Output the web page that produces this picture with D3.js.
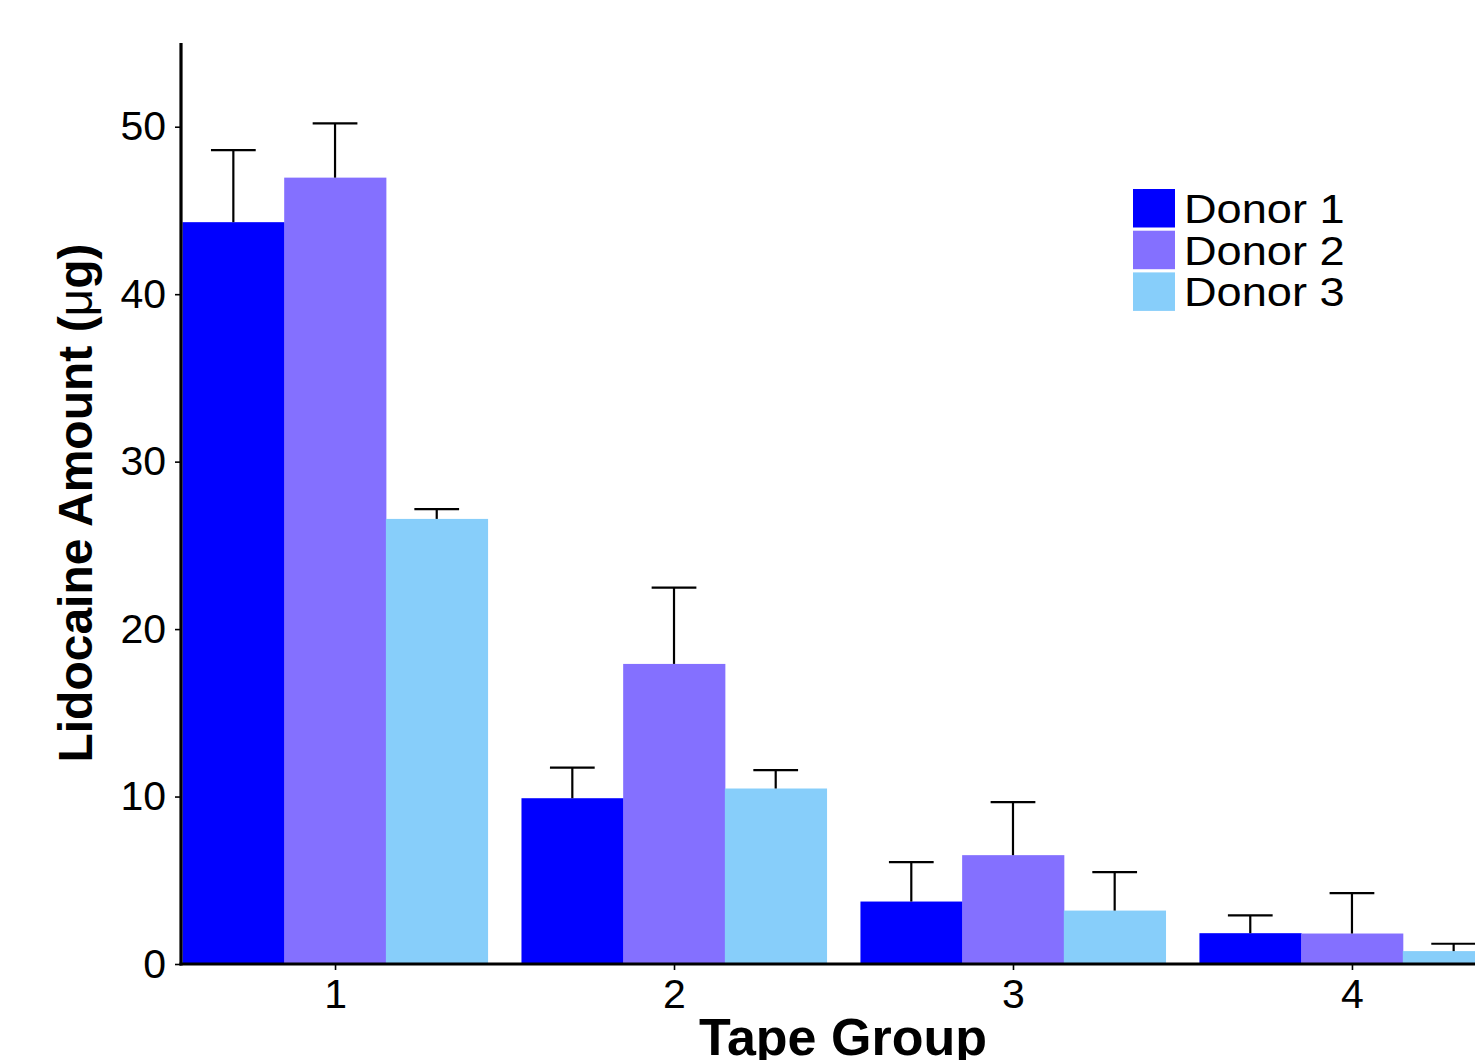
<!DOCTYPE html>
<html>
<head>
<meta charset="utf-8">
<script src="https://cdn.jsdelivr.net/npm/d3@7"></script>
<style>
  html, body { margin: 0; padding: 0; background: #ffffff; }
  svg { display: block; }
  text { font-family: "Liberation Sans", Arial, sans-serif; fill: #000; }
</style>
</head>
<body>
<svg id="chart" width="1475" height="1060"></svg>
<script>
// Tape-strip groups and lidocaine recovered per donor (mean and SD, µg)
const tapeGroups = [1, 2, 3, 4];
const donors = ["Donor 1", "Donor 2", "Donor 3"];
const donorColors = ["#0000FF", "#8470FF", "#87CEFA"];

const donor1Mean = [44.3, 9.9, 3.73, 1.84];
const donor1Sd   = [4.3, 1.83, 2.35, 1.06];
const donor2Mean = [46.96, 17.92, 6.5, 1.82];
const donor2Sd   = [3.24, 4.56, 3.17, 2.41];
const donor3Mean = [26.58, 10.48, 3.19, 0.77];
const donor3Sd   = [0.58, 1.1, 2.3, 0.44];

const yTicks = [0, 10, 20, 30, 40, 50];

const means = [donor1Mean, donor2Mean, donor3Mean];
const sds = [donor1Sd, donor2Sd, donor3Sd];

const rows = [];
tapeGroups.forEach((g, gi) => {
  donors.forEach((d, di) => {
    rows.push({ group: g, donor: di, mean: means[di][gi], sd: sds[di][gi] });
  });
});

const svg = d3.select("#chart");

// Panel geometry: bars start right at the y axis (no x expansion)
const dodge = 0.9;
const x = d3.scaleLinear().domain([0.55, 4.45]).range([182.5, 1504.5]);
const y = d3.scaleLinear().domain([0, 55]).range([964, 43]);
const barW = dodge / donors.length;

const plot = svg.append("g");

// Bars
plot.selectAll("rect.bar")
  .data(rows)
  .join("rect")
  .attr("class", "bar")
  .attr("x", d => x(d.group - dodge / 2 + d.donor * barW))
  .attr("width", x(barW) - x(0) + 0.5)
  .attr("y", d => y(d.mean))
  .attr("height", d => y(0) - y(d.mean))
  .attr("fill", d => donorColors[d.donor]);

// Upper error bars (mean to mean + SD)
const capHalf = (x(barW) - x(0)) * 0.22;
const eb = plot.selectAll("g.err")
  .data(rows)
  .join("g")
  .attr("class", "err")
  .attr("stroke", "#000")
  .attr("stroke-width", 2.2)
  .attr("fill", "none");
eb.append("line")
  .attr("x1", d => x(d.group - dodge / 2 + (d.donor + 0.5) * barW))
  .attr("x2", d => x(d.group - dodge / 2 + (d.donor + 0.5) * barW))
  .attr("y1", d => y(d.mean))
  .attr("y2", d => y(d.mean + d.sd));
eb.append("line")
  .attr("x1", d => x(d.group - dodge / 2 + (d.donor + 0.5) * barW) - capHalf)
  .attr("x2", d => x(d.group - dodge / 2 + (d.donor + 0.5) * barW) + capHalf)
  .attr("y1", d => y(d.mean + d.sd))
  .attr("y2", d => y(d.mean + d.sd));

// X axis
const xAxis = svg.append("g")
  .attr("transform", `translate(0,${y(0)})`)
  .call(d3.axisBottom(x).tickValues(tapeGroups).tickFormat(d3.format("d")).tickSize(6).tickPadding(9).tickSizeOuter(0));
xAxis.select(".domain").attr("stroke", "#000").attr("stroke-width", 3.2).attr("d", `M179.5,0H1520`);
xAxis.selectAll(".tick line").attr("stroke", "#000").attr("stroke-width", 1.6);
xAxis.selectAll(".tick text").attr("font-size", 41).attr("font-family", "Liberation Sans, Arial, sans-serif").attr("fill", "#000");

// Y axis
const yAxis = svg.append("g")
  .attr("transform", "translate(181,0)")
  .call(d3.axisLeft(y).tickValues(yTicks).tickSize(6).tickPadding(9).tickSizeOuter(0));
yAxis.select(".domain").attr("stroke", "#000").attr("stroke-width", 3.2).attr("d", `M0,${y(0) + 1.6}V${y(55)}`);
yAxis.selectAll(".tick line").attr("stroke", "#000").attr("stroke-width", 1.6);
yAxis.selectAll(".tick text").attr("font-size", 41).attr("font-family", "Liberation Sans, Arial, sans-serif").attr("fill", "#000");

// Axis titles
const yTitle = svg.append("text")
  .attr("transform", "translate(92,503) rotate(-90)")
  .attr("text-anchor", "middle")
  .attr("font-size", 48)
  .attr("font-weight", "bold");
yTitle.append("tspan").text("Lidocaine Amount (");
yTitle.append("tspan").attr("font-weight", "normal").text("μ");
yTitle.append("tspan").text("g)");

svg.append("text")
  .attr("x", 843)
  .attr("y", 1055)
  .attr("text-anchor", "middle")
  .attr("font-size", 52)
  .attr("font-weight", "bold")
  .text("Tape Group");

// Legend
const legend = svg.append("g").attr("transform", "translate(1133,189)");
const item = legend.selectAll("g.item")
  .data(donors)
  .join("g")
  .attr("class", "item")
  .attr("transform", (d, i) => `translate(0,${i * 41.7})`);
item.append("rect")
  .attr("width", 42)
  .attr("height", 38.5)
  .attr("fill", (d, i) => donorColors[i]);
item.append("text")
  .attr("transform", "translate(51,34) scale(1.13,1)")
  .attr("font-size", 40)
  .text(d => d);
</script>
</body>
</html>
